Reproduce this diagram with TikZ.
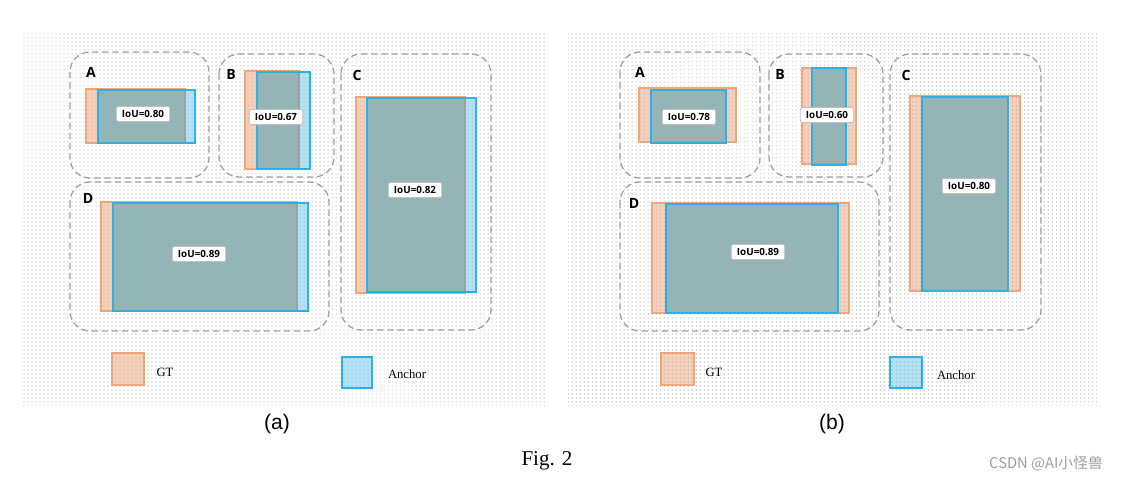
\documentclass[tikz,border=0pt]{standalone}
\usepackage{fontspec}
\setmainfont{Liberation Serif}
\newfontfamily\tagfont{Open Sans}
\newfontfamily\arialfont{Liberation Sans}
\newfontfamily\cjkfont{Noto Sans CJK SC}
\usepackage{tikz}
\usetikzlibrary{patterns.meta}

\definecolor{gtedge}{RGB}{242,166,122}
\definecolor{gtface}{RGB}{248,207,184}
\definecolor{anedge}{RGB}{38,178,230}
\definecolor{anface}{RGB}{174,228,246}
\definecolor{ovface}{RGB}{146,182,184}

% GT box (#1,#2)-(#3,#4) and anchor box (#5,#6)-(#7,#8)
\newcommand{\iouboxes}[8]{%
  \fill[gtface] (#1,#2) rectangle (#3,#4);
  \fill[anface] (#5,#6) rectangle (#7,#8);
  \draw[gtline] (#1,#2) rectangle (#3,#4);
  \begin{scope}
    \clip (#1,#2) rectangle (#3,#4);
    \fill[ovface] (#5,#6) rectangle (#7,#8);
  \end{scope}
  \begin{scope}
    \clip (#5,#6) rectangle (#7,#8);
    \draw[gtline, draw=gray!75] (#1,#2) rectangle (#3,#4);
  \end{scope}
  \draw[anline] (#5,#6) rectangle (#7,#8);
}

\begin{document}
\begin{tikzpicture}[
      x=0.025cm, y=-0.025cm,
      group/.style={
        draw=gray!75, line width=0.9pt, rounded corners=0.5cm,
        dash pattern=on 4.6pt off 2.6pt
      },
      gtline/.style={draw=gtedge, line width=1.3pt},
      anline/.style={draw=anedge, line width=1.1pt},
      dotgrid/.style={
        pattern={Dots[distance=0.1cm, radius=0.42pt]}, pattern color=gray!70
      },
      tag/.style={font=\tagfont\bfseries\fontsize{10}{12}\selectfont},
      iou/.style={
        rectangle, rounded corners=1.5pt, fill=white, draw=gray!50,
        line width=0.6pt, minimum width=38pt, minimum height=10.8pt,
        inner sep=0pt, font=\tagfont\bfseries\fontsize{7}{8}\selectfont
      },
      legtext/.style={font=\fontsize{9}{11}\selectfont},
      sub/.style={font=\arialfont\fontsize{15}{17}\selectfont}
    ]

    \useasboundingbox (0,0) rectangle (1125,482);
    \fill[white] (0,0) rectangle (1125,482);

    % --- Panel (a) ---
    \draw[group] (70,52)  rectangle (209,178);
    \draw[group] (219,54) rectangle (334,177);
    \draw[group] (341,54) rectangle (491,330);
    \draw[group] (70,182) rectangle (329,331);

    \iouboxes{86}{89}{185}{143}{98}{90}{195}{143}
    \iouboxes{245}{71}{299}{169}{257}{72}{310}{169}
    \iouboxes{356}{97}{465}{293}{367}{98}{476}{292}
    \iouboxes{101}{202}{297}{311}{113}{203}{308}{311}

    \filldraw[gtline, fill=gtface] (112,353) rectangle (144,385);
    \filldraw[anline, fill=anface] (342,357) rectangle (372,388);

    % --- Panel (b) ---
    \draw[group] (620,52)  rectangle (760,178);
    \draw[group] (769,54)  rectangle (883,177);
    \draw[group] (890,54)  rectangle (1041,330);
    \draw[group] (620,182) rectangle (879,331);

    \iouboxes{639}{88}{736}{142}{651}{90}{726}{143}
    \iouboxes{802}{68}{856}{164}{812}{68}{846}{165}
    \iouboxes{910}{96}{1020}{291}{922}{97}{1008}{291}
    \iouboxes{652}{203}{849}{313}{666}{204}{838}{313}

    \filldraw[gtline, fill=gtface] (661,353) rectangle (694,385);
    \filldraw[anline, fill=anface] (890,357) rectangle (922,388);

    % --- Dot texture ---
    \fill[dotgrid] (22,33)  rectangle (546,405);
    \fill[dotgrid] (568,33) rectangle (1097,405);

    % --- Letters and IoU values (a) ---
    \node[tag] (aA) at (91,72)  {A};
    \node[tag] (aB) at (231,74) {B};
    \node[tag] (aC) at (357,75) {C};
    \node[tag] (aD) at (88,198) {D};
    \node[iou] (iouaA) at (143,114) {IoU=0.80};
    \node[iou] (iouaB) at (276,117) {IoU=0.67};
    \node[iou] (iouaC) at (415,190) {IoU=0.82};
    \node[iou] (iouaD) at (199,254) {IoU=0.89};
    \node[legtext] (gta) at (165,372) {GT};
    \node[legtext] (ancha) at (407,374) {Anchor};

    % --- Letters and IoU values (b) ---
    \node[tag] (bA) at (640,72)  {A};
    \node[tag] (bB) at (780,74)  {B};
    \node[tag] (bC) at (906,75)  {C};
    \node[tag] (bD) at (634,203) {D};
    \node[iou] (ioubA) at (689,117) {IoU=0.78};
    \node[iou] (ioubB) at (827,115) {IoU=0.60};
    \node[iou] (ioubC) at (969,186) {IoU=0.80};
    \node[iou] (ioubD) at (758,252) {IoU=0.89};
    \node[legtext] (gtb) at (714,372) {GT};
    \node[legtext] (anchb) at (956,375) {Anchor};

    % --- Captions ---
    \node[sub] (capa) at (277,424) {(a)};
    \node[sub] (capb) at (832,424) {(b)};
    \node[font=\fontsize{15}{17}\selectfont] (fig) at (547,461) {Fig. 2};
    \node[font=\cjkfont\fontsize{10.5}{12}\selectfont, text=gray!75] (wm)
      at (1046,464) {CSDN @AI小怪兽};

  \end{tikzpicture}
\end{document}
